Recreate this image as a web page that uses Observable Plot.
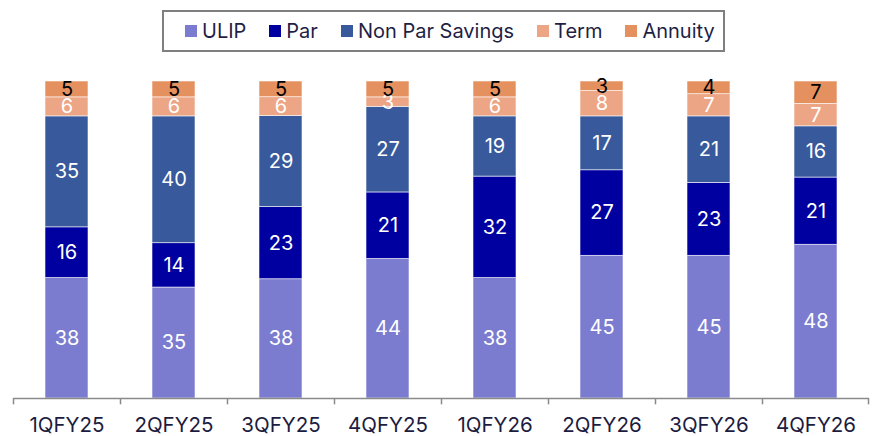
<!DOCTYPE html>
<html>
<head>
<meta charset="utf-8">
<script src="https://cdn.jsdelivr.net/npm/d3@7"></script>
<script src="https://cdn.jsdelivr.net/npm/@observablehq/plot@0.6"></script>
<style>
  body { margin: 0; background: #fff; font-family: Inter, "Noto Sans", sans-serif; }
  #wrap { position: relative; width: 872px; height: 436px; }
  #legend {
    position: absolute; left: 162px; top: 10px; width: 563px; height: 42px;
    border: 2px solid #7f7f7f; display: flex; align-items: center;
    padding-left: 21px; box-sizing: border-box; color: #1f1f45; font-size: 20px;
    white-space: nowrap;
  }
  #legend .item { display: flex; align-items: center; margin-right: 23px; }
  #legend .sw { width: 12px; height: 12px; margin-right: 5px; }
  #chart { position: absolute; left: 0; top: 55px; }
</style>
</head>
<body>
<div id="wrap">
  <div id="legend"></div>
  <div id="chart"></div>
</div>
<script>
const quarters = ["1QFY25","2QFY25","3QFY25","4QFY25","1QFY26","2QFY26","3QFY26","4QFY26"];
const ulip    = [38, 35, 38, 44, 38, 45, 45, 48];
const par     = [16, 14, 23, 21, 32, 27, 23, 21];
const nonPar  = [35, 40, 29, 27, 19, 17, 21, 16];
const term    = [6, 6, 6, 3, 6, 8, 7, 7];
const annuity = [5, 5, 5, 5, 5, 3, 4, 7];
const seriesNames = ["ULIP", "Par", "Non Par Savings", "Term", "Annuity"];
const seriesColors = ["#7b7ccf", "#0000a0", "#385a9d", "#eca585", "#e4905f"];
const seriesValues = [ulip, par, nonPar, term, annuity];

const rows = [];
seriesNames.forEach((s, si) => {
  quarters.forEach((q, qi) => rows.push({quarter: q, series: s, value: seriesValues[si][qi]}));
});

// legend
const legend = document.getElementById("legend");
seriesNames.forEach((s, i) => {
  const it = document.createElement("div");
  it.className = "item";
  it.innerHTML = `<div class="sw" style="background:${seriesColors[i]}"></div><span>${s}</span>`;
  legend.appendChild(it);
});

const W = 872, H = 381, mL = 13, mR = 3;
const step = (W - mL - mR) / quarters.length;
const stackOpts = {x: "quarter", y: "value", z: "series", offset: "normalize"};
const lastQ = quarters[quarters.length - 1];

const chart = Plot.plot({
  width: W, height: H,
  marginLeft: mL, marginRight: mR, marginTop: 26, marginBottom: 38,
  style: {fontFamily: "Inter, 'Noto Sans', sans-serif", background: "#fff"},
  x: {domain: quarters, paddingInner: 0.6, paddingOuter: 0.3, label: null},
  y: {domain: [0, 1], axis: null},
  color: {domain: seriesNames, range: seriesColors},
  marks: [
    Plot.barY(rows, Plot.stackY({...stackOpts, fill: "series", stroke: "#ffffff", strokeWidth: 0.8, strokeOpacity: 0.7})),
    Plot.text(rows, Plot.stackY({...stackOpts, text: d => d.series !== "Annuity" ? String(d.value) : null, fill: "white", fontSize: 20})),
    Plot.text(rows, Plot.stackY({...stackOpts, text: d => d.series === "Annuity" ? String(d.value) : null, fill: "black", fontSize: 20})),
    Plot.ruleY([0], {stroke: "#8a8a8a", strokeWidth: 1.5}),
    Plot.ruleX(quarters, {x: d => d, dx: -step / 2, y1: 0, y2: -0.02, stroke: "#8a8a8a", strokeWidth: 1.5}),
    Plot.ruleX([lastQ], {x: d => d, dx: step / 2 - 1, y1: 0, y2: -0.02, stroke: "#8a8a8a", strokeWidth: 1.5}),
    Plot.axisX({tickSize: 0, tickPadding: 19, fontSize: 20.5, fill: "#1c1c40"})
  ]
});
document.getElementById("chart").appendChild(chart);
</script>
</body>
</html>
